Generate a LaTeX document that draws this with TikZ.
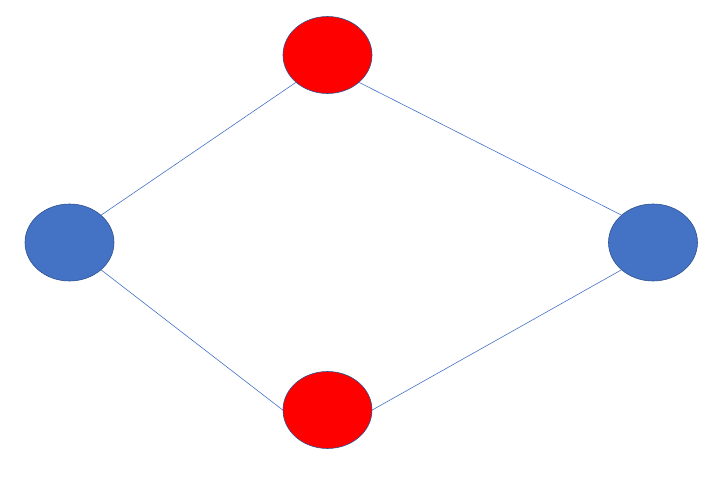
\documentclass[tikz,border=0pt]{standalone}
\usetikzlibrary{shapes.geometric}
\definecolor{edgeblue}{HTML}{4472C4}
\definecolor{rimblue}{HTML}{2F528F}
\tikzset{
  vnode/.style={ellipse, draw=rimblue, line width=0.6pt, minimum width=89pt, minimum height=77pt, inner sep=0pt},
  rednode/.style={vnode, fill=red},
  bluenode/.style={vnode, fill=edgeblue},
  link/.style={draw=edgeblue, line width=0.6pt}
}
\begin{document}
\begin{tikzpicture}[x=1pt,y=-1pt]
\useasboundingbox (0,0) rectangle (716,484);
\node[rednode] (top) at (327.5,55) {};
\node[rednode] (bot) at (327.5,410) {};
\node[bluenode] (left) at (69.5,242.5) {};
\node[bluenode] (right) at (653,242.5) {};
\draw[link] (left.north east) -- (top.south west);
\draw[link] (top.south east) -- (right.north west);
\draw[link] (left.south east) -- (bot.west);
\draw[link] (bot.east) -- (right.south west);
\end{tikzpicture}
\end{document}
